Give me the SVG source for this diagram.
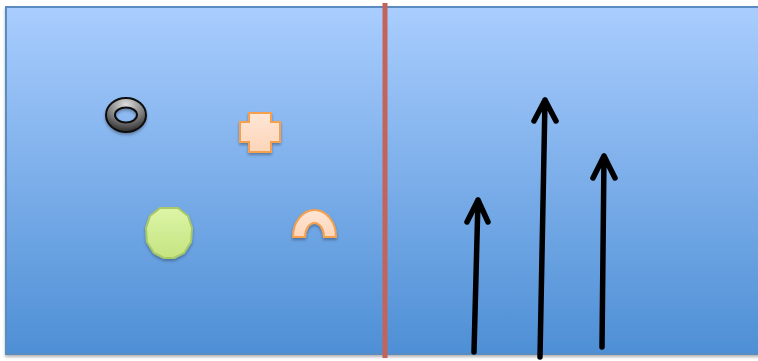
<svg xmlns="http://www.w3.org/2000/svg" width="758" height="361" viewBox="0 0 758 361">
<defs>
<linearGradient id="bg" x1="0" y1="0" x2="0" y2="1">
<stop offset="0" stop-color="#a9cdfe"/>
<stop offset="1" stop-color="#4e8fd5"/>
</linearGradient>
<radialGradient id="ring" cx="0.5" cy="0.2" r="0.8">
<stop offset="0" stop-color="#e0e0e0"/>
<stop offset="0.6" stop-color="#7a7a7a"/>
<stop offset="1" stop-color="#2a2a2a"/>
</radialGradient>
<linearGradient id="green" x1="0" y1="0" x2="0" y2="1">
<stop offset="0" stop-color="#dcf5a6"/>
<stop offset="1" stop-color="#c5e481"/>
</linearGradient>
<linearGradient id="peach" x1="0" y1="0" x2="0" y2="1">
<stop offset="0" stop-color="#fee6d6"/>
<stop offset="1" stop-color="#fdd5b8"/>
</linearGradient>
<filter id="sh" x="-20%" y="-20%" width="140%" height="140%">
<feDropShadow dx="0" dy="2" stdDeviation="1.5" flood-color="#000" flood-opacity="0.3"/>
</filter>
<style>
.arrow{fill:none;stroke:#000;stroke-width:5.5;stroke-linecap:round;stroke-linejoin:round}
.peach{fill:url(#peach);stroke:#f5a04f;stroke-width:2}
</style>
</defs>
<rect width="758" height="361" fill="#ffffff"/>
<g id="panel">
<rect x="6" y="7" width="760" height="347" fill="url(#bg)" stroke="#5a8cc2" stroke-width="2" filter="url(#sh)"/>
</g>
<g id="divider">
<rect x="382.5" y="3" width="5" height="355" fill="#c3645a"/>
</g>
<g id="torus" filter="url(#sh)">
<path d="M106,115 a20,17 0 1,0 40,0 a20,17 0 1,0 -40,0 Z M115,115 a11,7.5 0 1,1 22,0 a11,7.5 0 1,1 -22,0 Z" fill="url(#ring)" fill-rule="evenodd" stroke="#111" stroke-width="2"/>
</g>
<g id="plus" filter="url(#sh)">
<path class="peach" d="M249,113 H271 V122 H280 V142 H271 V152 H249 V142 H240 V122 H249 Z"/>
</g>
<g id="dodecagon" filter="url(#sh)">
<polygon points="160,208 178,208 188,216 192,228 191,242 184,253 174,258 164,258 154,253 147,242 146,228 150,216" fill="url(#green)" stroke="#a9c866" stroke-width="2"/>
</g>
<g id="arch" filter="url(#sh)">
<path class="peach" d="M293,237 A21.5,27 0 0,1 336,237 H324 A9.5,14 0 0,0 305,237 Z"/>
</g>
<g id="connectors">
<path class="arrow" d="M474,352 L478,200 M467,222 L478,200 L488,222"/>
<path class="arrow" d="M540,357 L545,100 M534,121 L545,100 L556,121"/>
<path class="arrow" d="M602,347 L604,156 M593,178 L604,156 L615,178"/>
</g>
</svg>
